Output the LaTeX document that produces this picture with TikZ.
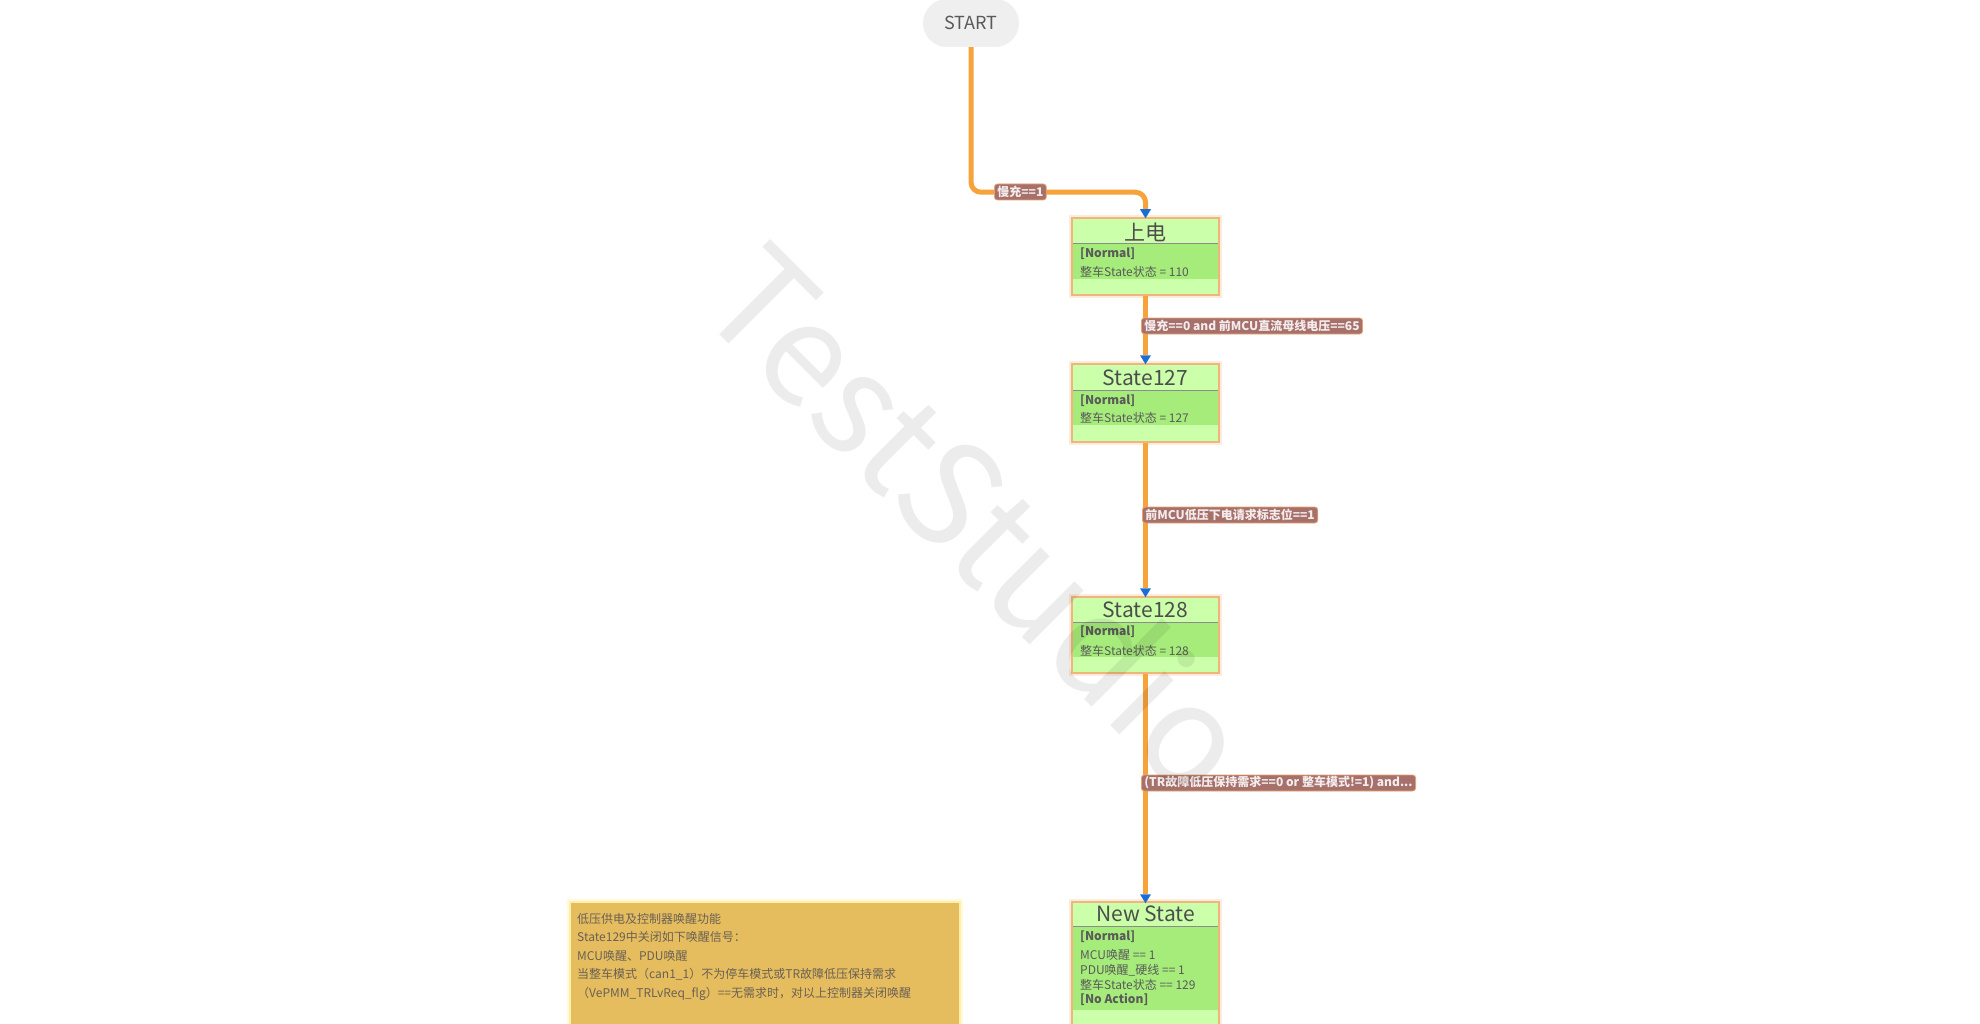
\documentclass[tikz,border=0pt]{standalone}
\usepackage{fontspec}
\setmainfont{Noto Sans CJK SC}
\usetikzlibrary{arrows.meta,calc}
\definecolor{connorange}{HTML}{F7A33B}
\definecolor{arrowblue}{HTML}{1A6FD6}
\definecolor{lightgreen}{HTML}{CCFFAA}
\definecolor{bandgreen}{HTML}{A6EC7B}
\definecolor{boxborder}{HTML}{F0B57A}
\definecolor{divgray}{HTML}{8C8C8C}
\definecolor{lblfill}{HTML}{A6706B}
\definecolor{lblborder}{HTML}{E9A26E}
\definecolor{lbltext}{HTML}{F4ECEC}
\definecolor{pillgray}{HTML}{EFEFEF}
\definecolor{titlegray}{HTML}{4D4D4D}
\definecolor{bodygray}{HTML}{5A5A5A}
\definecolor{notefill}{HTML}{E6BD5E}
\definecolor{noteborder}{HTML}{FFF0A8}
\definecolor{notetext}{HTML}{6A6155}
\begin{document}
\begin{tikzpicture}[x=1pt,y=-1pt,
  startpill/.style={fill=pillgray, rounded corners=24pt, minimum width=96pt, minimum height=48pt, inner sep=0pt, text=bodygray, font=\fontsize{18}{18}\selectfont},
  statebox/.style={fill=lightgreen, draw=boxborder, line width=1.5pt, minimum width=147pt, inner sep=0pt},
  glow/.style={draw=boxborder, line width=6pt, opacity=0.25},
  band/.style={fill=bandgreen},
  divline/.style={draw=divgray, line width=1pt},
  titletext/.style={text=titlegray, font=\fontsize{21}{21}\selectfont, inner sep=0pt},
  normaltext/.style={anchor=west, text=bodygray, font=\fontsize{12}{12}\selectfont\bfseries, inner sep=0pt},
  bodytext/.style={anchor=west, text=bodygray, font=\fontsize{12}{12}\selectfont, inner sep=0pt},
  conn/.style={draw=connorange, line width=5pt, -{Triangle[width=11pt,length=9pt,line width=0pt,color=arrowblue]}},
  lbl/.style={anchor=west, fill=lblfill, draw=lblborder, line width=0.8pt, rounded corners=3pt, text=lbltext, font=\fontsize{12}{12}\selectfont\bfseries, inner xsep=3pt, inner ysep=0pt, minimum height=16pt},
  notebox/.style={fill=notefill, draw=noteborder, line width=2pt, minimum width=390pt, minimum height=140pt, inner sep=0pt},
  notetxt/.style={anchor=north west, align=left, text=notetext, font=\fontsize{12}{18.5}\selectfont, inner sep=0pt},
  watermark/.style={rotate=-45, text=black, text opacity=0.075, font=\fontsize{141}{141}\selectfont, inner sep=0pt}
]
\clip (0,0) rectangle (1980,1024);
\fill[white] (0,0) rectangle (1980,1024);

% START
\node[startpill] (start) at (971,23) {START};

% state boxes
\draw[glow] (1072,218) rectangle (1219,295);
\node[statebox, minimum height=77pt] (sd) at (1145.5,256.5) {};
\fill[band] (1072.8,244) rectangle (1218.2,279);
\draw[divline] (1072.8,244) -- (1218.2,244);
\node[titletext] (sdt) at (1145.5,232) {上电};
\node[normaltext] (sdn) at (1080,254) {[Normal]};
\node[bodytext] (sdb) at (1080,272) {整车State状态 = 110};

\draw[glow] (1072,364) rectangle (1219,442);
\node[statebox, minimum height=78pt] (s127) at (1145.5,403) {};
\fill[band] (1072.8,390) rectangle (1218.2,425);
\draw[divline] (1072.8,390) -- (1218.2,390);
\node[titletext] (s127t) at (1145.5,378) {State127};
\node[normaltext] (s127n) at (1080,401) {[Normal]};
\node[bodytext] (s127b) at (1080,418) {整车State状态 = 127};

\draw[glow] (1072,597) rectangle (1219,673);
\node[statebox, minimum height=76pt] (s128) at (1145.5,635) {};
\fill[band] (1072.8,622) rectangle (1218.2,657);
\draw[divline] (1072.8,622) -- (1218.2,622);
\node[titletext] (s128t) at (1145.5,610) {State128};
\node[normaltext] (s128n) at (1080,632) {[Normal]};
\node[bodytext] (s128b) at (1080,651) {整车State状态 = 128};

\draw[glow] (1072,902) rectangle (1219,1050);
\node[statebox, minimum height=148pt] (ns) at (1145.5,976) {};
\fill[band] (1072.8,926) rectangle (1218.2,1010);
\draw[divline] (1072.8,926) -- (1218.2,926);
\node[titletext] (nst) at (1145.5,914) {New State};
\node[normaltext] (nsn) at (1080,937) {[Normal]};
\node[bodytext] (nsb1) at (1080,955) {MCU唤醒 == 1};
\node[bodytext] (nsb2) at (1080,970) {PDU唤醒\_硬线 == 1};
\node[bodytext] (nsb3) at (1080,985) {整车State状态 == 129};
\node[normaltext] (nsb4) at (1080,1000) {[No Action]};

% note
\draw[noteborder, line width=6pt, opacity=0.35] (570,902) rectangle (960,1040);
\node[notebox] (note) at (765,972) {};
\node[notetxt] (notet) at (577,913) {低压供电及控制器唤醒功能\\State129中关闭如下唤醒信号：\\MCU唤醒、PDU唤醒\\当整车模式（can1\_1）不为停车模式或TR故障低压保持需求\\（VePMM\_TRLvReq\_flg）==无需求时，对以上控制器关闭唤醒};

% connectors
\draw[conn, rounded corners=10pt] (start.south) |- ($(sd.north)+(0,-25)$) -- ([yshift=-1pt]sd.north);
\draw[conn] (sd.south) -- ([yshift=-1pt]s127.north);
\draw[conn] (s127.south) -- ([yshift=-1pt]s128.north);
\draw[conn] (s128.south) -- ([yshift=-2pt]ns.north);

% labels
\node[lbl] (l1) at (994,192) {慢充==1};
\node[lbl] (l2) at (1141,326) {慢充==0 and 前MCU直流母线电压==65};
\node[lbl] (l3) at (1142,515) {前MCU低压下电请求标志位==1};
\node[lbl] (l4) at (1141,783) {(TR故障低压保持需求==0 or 整车模式!=1) and...};

% watermark
\node[watermark] (wm) at (981,518) {TestStudio};
\end{tikzpicture}
\end{document}
